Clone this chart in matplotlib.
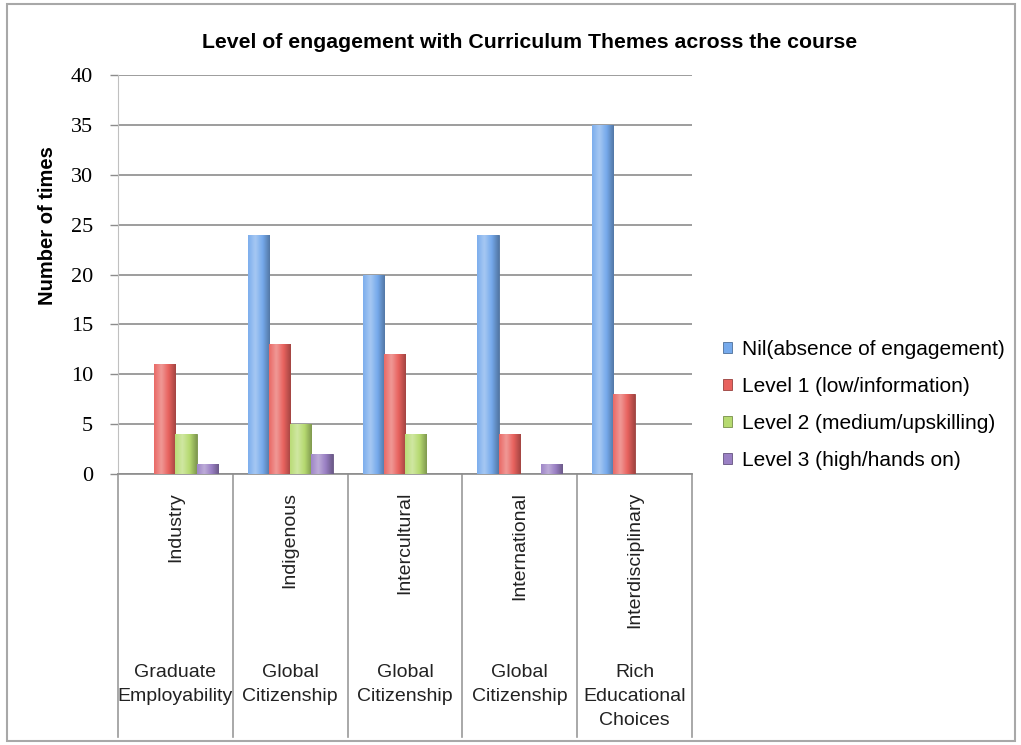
import matplotlib
matplotlib.use('Agg')
import matplotlib.pyplot as plt
import numpy as np
from matplotlib.colors import LinearSegmentedColormap, to_rgb
from matplotlib.patches import Rectangle

# Data
themes = ['Industry', 'Indigenous', 'Intercultural', 'International', 'Interdisciplinary']
groups = ['Graduate\nEmployability', 'Global\nCitizenship', 'Global\nCitizenship',
          'Global\nCitizenship', 'Rich\nEducational\nChoices']
series_names = ['Nil(absence of engagement)', 'Level 1 (low/information)',
                'Level 2 (medium/upskilling)', 'Level 3 (high/hands on)']
nil = [0, 24, 20, 24, 35]
level1 = [11, 13, 12, 4, 8]
level2 = [4, 5, 4, 0, 0]
level3 = [1, 2, 0, 1, 0]
y_ticks = [0, 5, 10, 15, 20, 25, 30, 35, 40]

series = [nil, level1, level2, level3]
colors = ['#76aaec', '#e8625e', '#b6da70', '#9a80c4']


def shade(c, f):
    r = np.array(to_rgb(c))
    if f > 0:
        return tuple(r + (1 - r) * f)
    return tuple(r * (1 + f))


fig = plt.figure(figsize=(10.21, 7.45), dpi=100)
ax = fig.add_axes([118 / 1021, 1 - 474 / 745, 574 / 1021, 399 / 745])

x = np.arange(len(themes))
w = 0.185
for j, (vals, c) in enumerate(zip(series, colors)):
    bars = ax.bar(x + (j - 1.5) * w, vals, w, color=c, label=series_names[j],
                  edgecolor=shade(c, -0.35), linewidth=0.6, zorder=3)
    # horizontal gradient to mimic the glossy Excel bars
    cmap = LinearSegmentedColormap.from_list(
        'g%d' % j, [shade(c, 0.05), shade(c, 0.35), c, shade(c, -0.3)])
    grad = np.linspace(0, 1, 64).reshape(1, -1)
    for b in bars:
        h = b.get_height()
        if h <= 0:
            continue
        bx = b.get_x()
        im = ax.imshow(grad, cmap=cmap, aspect='auto', zorder=3.5,
                       extent=[bx, bx + w, 0, h], interpolation='bicubic')
        im.set_clip_path(b)

ax.set_xlim(-0.5, len(themes) - 0.5)
ax.set_ylim(0, 40)
ax.set_yticks(y_ticks)
ax.set_yticklabels([str(t) for t in y_ticks], fontfamily='Liberation Serif', fontsize=16)
ax.tick_params(axis='y', length=6, width=1, color='#8c8c8c', pad=12)
ax.set_xticks([])
ax.grid(True, axis='y', color='#8c8c8c', linewidth=1.2, zorder=0)
for s in ['top', 'right']:
    ax.spines[s].set_visible(False)
ax.spines['left'].set_color('#c0c0c0')
ax.spines['bottom'].set_color('#8c8c8c')
ax.spines['bottom'].set_linewidth(1.2)

# category area below the axis
tr = ax.get_xaxis_transform()
for k in range(len(themes) + 1):
    ax.plot([k - 0.5, k - 0.5], [0, -0.66], transform=tr, color='#9a9a9a',
            linewidth=1.2, clip_on=False)
for i in range(len(themes)):
    ax.text(i, -0.045, themes[i], transform=tr, rotation=90, ha='center', va='top',
            fontsize=14, fontfamily='Liberation Sans', color='#222222')
    ax.text(i, -0.475, groups[i], transform=tr, ha='center', va='top',
            fontsize=14, fontfamily='Liberation Sans', color='#222222', linespacing=1.55)

fig.text(48 / 1021, 1 - 226 / 745, 'Number of times', rotation=90, ha='center', va='center',
         fontsize=14.5, fontweight='bold', fontfamily='Liberation Sans')
fig.text(530 / 1021, 1 - 42 / 745, 'Level of engagement with Curriculum Themes across the course',
         ha='center', va='center', fontsize=15.3, fontweight='bold', fontfamily='Liberation Sans')

ax.legend(loc='center left', bbox_to_anchor=(723 / 1021, 1 - 405 / 745),
          bbox_transform=fig.transFigure, frameon=False, borderpad=0, borderaxespad=0,
          handlelength=0.45, handleheight=0.45, handletextpad=0.45, labelspacing=0.86,
          prop={'family': 'Liberation Sans', 'size': 15})

fig.patches.append(Rectangle((7 / 1021, 4 / 745), 1008 / 1021, 737 / 745,
                             transform=fig.transFigure, fill=False,
                             edgecolor='#a8a8a8', linewidth=1.5))

fig.savefig('out.png', dpi=100)
